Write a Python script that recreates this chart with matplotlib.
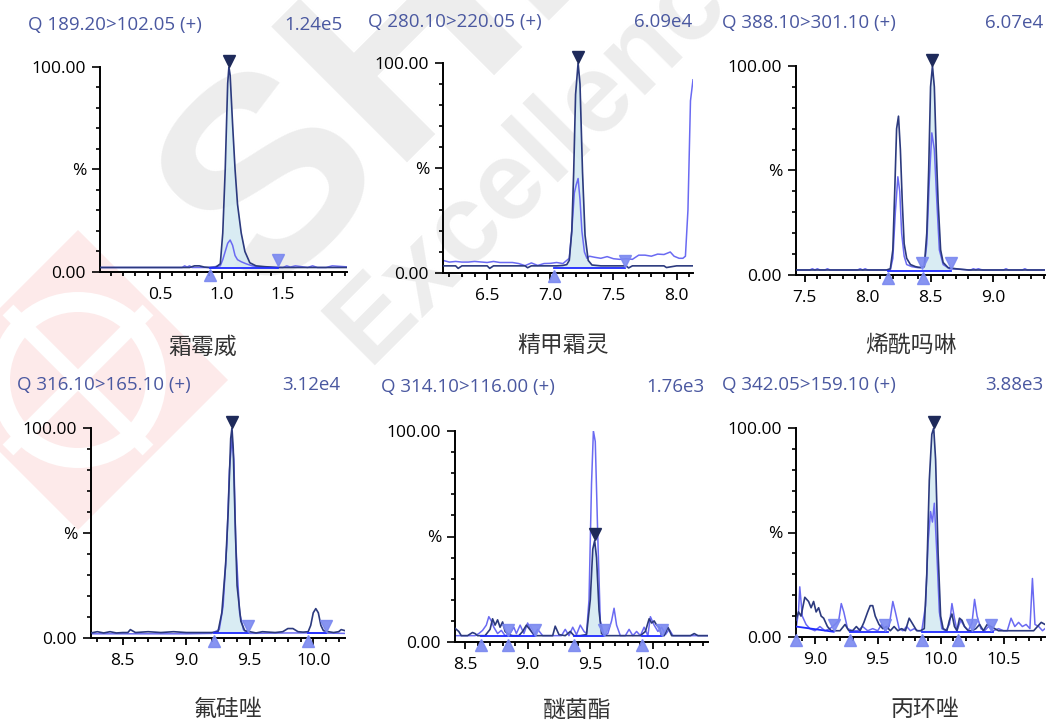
import matplotlib
matplotlib.use("Agg")
import matplotlib.pyplot as plt
from matplotlib.ticker import MultipleLocator, FixedLocator, FixedFormatter
from matplotlib.patches import Polygon, Circle
from matplotlib.lines import Line2D
import numpy as np

plt.rcParams['font.family'] = ['Open Sans', 'Noto Sans CJK SC', 'DejaVu Sans']

# ---- data (x = min, y = %) ----
titles = ["Q 189.20>102.05 (+)", "Q 280.10>220.05 (+)", "Q 388.10>301.10 (+)",
          "Q 316.10>165.10 (+)", "Q 314.10>116.00 (+)", "Q 342.05>159.10 (+)"]
intensities = ["1.24e5", "6.09e4", "6.07e4", "3.12e4", "1.76e3", "3.88e3"]
compounds = ["霜霉威", "精甲霜灵", "烯酰吗啉", "氟硅唑", "醚菌酯", "丙环唑"]

p1_xlim = (0.012, 2.02)
p1_xticks = [0.5, 1.0, 1.5]
p1_dark_x = [0.01, 0.30, 0.60, 0.74, 0.78, 0.82, 0.86, 0.90, 0.95, 0.99, 1.01, 1.03, 1.05, 1.06,
             1.07, 1.09, 1.11, 1.13, 1.16, 1.19, 1.23, 1.28, 1.35, 1.45, 1.60, 1.80, 2.02]
p1_dark_y = [2.2, 2.2, 2.2, 2.2, 3.0, 3.0, 2.4, 2.2, 2.2, 4, 19, 50, 92, 100,
             96, 72, 50, 33, 19, 10, 4.5, 3, 2.6, 2.2, 2.2, 2.2, 2.2]
p1_light_x = [0.01, 0.68, 0.70, 0.72, 0.74, 0.76, 0.90, 0.99, 1.01, 1.03, 1.05, 1.07, 1.09, 1.11,
              1.13, 1.16, 1.20, 1.25, 1.30, 1.50, 1.53, 1.56, 1.60, 1.70, 1.74, 1.78, 1.85,
              1.90, 2.02]
p1_light_y = [2.2, 2.2, 3, 2.4, 3, 2.2, 2.2, 3, 6, 10, 14, 15.6, 13, 8,
              6, 5, 4, 3, 2.5, 2.2, 3, 2.4, 3, 2.2, 3, 2.2, 2.2,
              3, 2.5]
p1_apex = [1.06]
p1_starts = [0.91]
p1_ends = [1.46]
p1_base = [[(0.91, 2.0), (1.46, 2.0)]]
p1_fill = [(0.91, 1.46)]

p2_xlim = (6.15, 8.13)
p2_xticks = [6.5, 7.0, 7.5, 8.0]
p2_dark_x = [6.15, 6.25, 6.27, 6.30, 6.50, 6.52, 6.55, 6.70, 6.80, 6.82, 6.85, 7.00, 7.05, 7.10,
             7.13, 7.15, 7.17, 7.185, 7.20, 7.22, 7.235, 7.255, 7.275, 7.30, 7.33, 7.40, 7.50,
             7.60, 7.62, 7.65, 7.80, 7.90, 7.92, 8.00, 8.13]
p2_dark_y = [3.4, 3.4, 2.2, 3.4, 3.4, 2.2, 3.4, 3.4, 3.4, 2.5, 3.4, 3.4, 3.4, 3.6,
             4, 6, 20, 48, 85, 100, 90, 48, 18, 6, 3.8, 3.4, 3.4,
             3.4, 2.4, 3.4, 3.4, 3.4, 2.6, 3.4, 3.4]
p2_light_x = [6.15, 6.20, 6.25, 6.30, 6.35, 6.40, 6.50, 6.55, 6.60, 6.70, 6.75, 6.80, 6.85, 6.90,
              6.95, 7.00, 7.05, 7.10, 7.15, 7.17, 7.19, 7.205, 7.22, 7.235, 7.25, 7.27, 7.29,
              7.31, 7.35, 7.40, 7.45, 7.50, 7.55, 7.60, 7.65, 7.70, 7.75, 7.80, 7.85, 7.90,
              7.95, 7.98, 8.02, 8.05, 8.07, 8.09, 8.11, 8.13]
p2_light_y = [6, 5.2, 5.5, 5.2, 5.2, 5.5, 5.0, 5.5, 5.0, 5.0, 4.5, 3.5, 4.8, 3.6,
              4.5, 4.6, 5, 4.5, 7, 20, 38, 42, 45, 35, 20, 10, 7,
              8, 7.5, 7, 7.8, 6.8, 6.5, 6.8, 6.5, 8.5, 8.5, 8, 9, 8.8,
              10, 8, 7, 7, 8, 30, 82, 92]
p2_apex = [7.22]
p2_starts = [7.03]
p2_ends = [7.59]
p2_base = [[(7.03, 2.5), (7.59, 2.5)]]
p2_fill = [(7.03, 7.59)]

p3_xlim = (7.43, 9.41)
p3_xticks = [7.5, 8.0, 8.5, 9.0]
p3_dark_x = [7.43, 7.60, 7.80, 8.00, 8.15, 8.18, 8.20, 8.215, 8.23, 8.245, 8.26, 8.275, 8.29, 8.31,
             8.34, 8.38, 8.42, 8.45, 8.47, 8.485, 8.50, 8.515, 8.53, 8.545, 8.56, 8.58, 8.60,
             8.64, 8.70, 8.80, 9.00, 9.20, 9.41]
p3_dark_y = [2.4, 2.4, 2.4, 2.4, 2.4, 3, 12, 40, 70, 76, 60, 35, 15, 8,
             5, 4, 3.5, 4, 20, 50, 90, 100, 90, 60, 35, 12, 6,
             3.5, 3, 2.4, 2.4, 2.4, 2.4]
p3_light_x = [7.43, 7.54, 7.56, 7.58, 7.60, 7.62, 7.66, 7.68, 7.70, 7.92, 7.94, 7.96, 7.98, 8.00,
              8.18, 8.20, 8.22, 8.24, 8.255, 8.27, 8.29, 8.31, 8.35, 8.40, 8.45, 8.47, 8.49,
              8.51, 8.53, 8.55, 8.57, 8.60, 8.65, 8.82, 8.84, 8.86, 8.88, 8.90, 8.92, 9.08,
              9.10, 9.12, 9.23, 9.25, 9.27, 9.41]
p3_light_y = [2.4, 2.4, 3, 2.4, 3, 2.4, 2.4, 3, 2.4, 2.4, 3, 2.4, 3, 2.4,
              2.4, 8, 30, 47, 40, 20, 9, 5, 4, 3.5, 4, 15, 45,
              68, 60, 35, 12, 5, 3, 2.4, 3, 2.6, 3, 2.6, 2.4, 2.4,
              3, 2.4, 2.4, 3, 2.4, 2.4]
p3_apex = [8.515]
p3_starts = [8.16, 8.44]
p3_ends = [8.43, 8.66]
p3_base = [[(8.16, 2.0), (8.66, 2.0)]]
p3_fill = [(8.44, 8.66)]

p4_xlim = (8.25, 10.25)
p4_xticks = [8.5, 9.0, 9.5, 10.0]
p4_dark_x = [8.25, 8.30, 8.35, 8.40, 8.45, 8.50, 8.54, 8.56, 8.60, 8.70, 8.80, 8.90, 9.00, 9.10,
             9.20, 9.25, 9.28, 9.31, 9.33, 9.35, 9.36, 9.37, 9.385, 9.40, 9.43, 9.46, 9.50,
             9.55, 9.60, 9.70, 9.76, 9.80, 9.84, 9.88, 9.92, 9.96, 9.98, 10.00, 10.02, 10.04,
             10.06, 10.08, 10.12, 10.16, 10.20, 10.22, 10.25]
p4_dark_y = [2.4, 3, 2.4, 3, 2.4, 2.6, 2.6, 4, 2.6, 3, 2.6, 3, 2.6, 2.6,
             2.6, 3, 12, 35, 60, 95, 100, 90, 55, 25, 8, 3.5, 3,
             2.4, 3, 2.6, 3, 4.5, 4.5, 3, 2.8, 3, 6, 12, 14, 12,
             6, 3.5, 3, 2.6, 3, 4, 3.5]
p4_light_x = [8.25, 8.50, 8.80, 9.00, 9.20, 9.26, 9.29, 9.32, 9.34, 9.36, 9.375, 9.39, 9.42, 9.45,
              9.50, 9.80, 10.00, 10.25]
p4_light_y = [2.0, 2.0, 2.0, 2.0, 2.2, 4, 15, 45, 80, 95, 85, 45, 12, 4,
              2.2, 2.4, 2.4, 2.2]
p4_apex = [9.36]
p4_starts = [9.22, 9.96]
p4_ends = [9.49, 10.10]
p4_base = [[(9.22, 2.2), (9.49, 2.2)], [(9.96, 2.2), (10.10, 2.2)]]
p4_fill = [(9.22, 9.49)]

p5_xlim = (8.42, 10.44)
p5_xticks = [8.5, 9.0, 9.5, 10.0]
p5_dark_x = [8.42, 8.45, 8.47, 8.52, 8.56, 8.58, 8.60, 8.66, 8.70, 8.72, 8.74, 8.76, 8.78, 8.80,
             8.82, 8.85, 8.88, 8.93, 8.96, 8.99, 9.01, 9.03, 9.06, 9.10, 9.15, 9.20, 9.22,
             9.25, 9.30, 9.34, 9.37, 9.42, 9.47, 9.50, 9.52, 9.535, 9.55, 9.57, 9.59, 9.62,
             9.66, 9.75, 9.85, 9.90, 9.94, 9.97, 9.99, 10.01, 10.03, 10.05, 10.07, 10.09,
             10.12, 10.15, 10.20, 10.30, 10.33, 10.36, 10.44]
p5_dark_y = [6.5, 5, 3, 3, 4.5, 4, 3, 3, 6, 11, 8, 10.5, 7, 9.5,
             5, 3.5, 3, 3, 5, 8, 6.5, 5, 3, 3, 3, 3, 7.5,
             3.5, 3, 5, 3, 3, 3.5, 20, 44, 48, 40, 15, 4, 3,
             3, 3, 3, 3, 5, 11, 9, 10, 8, 7, 3, 3,
             7, 3, 3, 3, 4, 3, 3]
p5_light_x = [8.42, 8.50, 8.58, 8.61, 8.64, 8.67, 8.69, 8.71, 8.73, 8.76, 8.79, 8.82, 8.86, 8.89,
              8.91, 8.94, 8.97, 9.00, 9.03, 9.05, 9.08, 9.12, 9.16, 9.20, 9.24, 9.27, 9.30,
              9.33, 9.36, 9.39, 9.42, 9.45, 9.47, 9.49, 9.51, 9.525, 9.54, 9.56, 9.58, 9.61,
              9.64, 9.67, 9.69, 9.71, 9.74, 9.78, 9.81, 9.84, 9.87, 9.90, 9.93, 9.96, 9.98,
              10.01, 10.04, 10.07, 10.10, 10.13, 10.16, 10.20, 10.30, 10.44]
p5_light_y = [3, 3, 3, 4, 5.5, 8, 12, 10, 7, 4, 5.5, 3, 4, 7,
              4, 8, 4, 9, 5, 3, 6, 3, 3, 3, 3, 3, 6,
              3, 7, 3.5, 8, 5, 4, 20, 75, 100, 95, 50, 10, 3,
              4, 10, 16, 8, 3, 3, 6, 3, 5, 3, 7, 3, 12,
              8, 5, 7, 3.5, 6, 3, 3, 3, 3]
p5_apex = [9.535]
p5_starts = [8.63, 8.84, 9.37, 9.91]
p5_ends = [8.84, 9.06, 9.61, 10.07]
p5_base = [[(8.63, 2.8), (9.06, 2.8)], [(9.37, 2.8), (9.61, 2.8)], [(9.91, 2.8), (10.07, 2.8)]]
p5_fill = [(9.46, 9.60)]

p6_xlim = (8.85, 10.83)
p6_xticks = [9.0, 9.5, 10.0, 10.5]
p6_dark_x = [8.85, 8.87, 8.89, 8.92, 8.95, 8.97, 8.99, 9.01, 9.03, 9.05, 9.07, 9.10, 9.13, 9.16,
             9.20, 9.24, 9.27, 9.30, 9.33, 9.36, 9.39, 9.42, 9.44, 9.46, 9.48, 9.51, 9.54,
             9.57, 9.60, 9.63, 9.66, 9.69, 9.72, 9.75, 9.78, 9.81, 9.84, 9.87, 9.89, 9.91,
             9.93, 9.945, 9.96, 9.98, 10.00, 10.02, 10.05, 10.07, 10.09, 10.11, 10.13, 10.15,
             10.17, 10.19, 10.22, 10.25, 10.28, 10.31, 10.34, 10.37, 10.40, 10.43, 10.46,
             10.50, 10.55, 10.60, 10.65, 10.70, 10.74, 10.77, 10.80, 10.83]
p6_dark_y = [8, 12, 10, 19, 17, 14, 17, 12, 14, 10, 9, 5, 3, 3,
             3, 6, 3, 3, 5, 3, 7, 12, 15, 15, 10, 6, 4,
             5, 3, 5, 3, 4, 3, 9, 6, 3, 3, 4, 30, 75,
             97, 100, 85, 40, 10, 4, 3, 8, 11, 5, 3, 9,
             8, 5, 3, 3, 4, 6, 3, 6, 5, 4, 3,
             3, 3, 3, 3, 3, 3, 5, 7, 6]
p6_light_x = [8.85, 8.87, 8.88, 8.90, 8.93, 8.96, 9.00, 9.04, 9.08, 9.12, 9.16, 9.19, 9.21, 9.23,
              9.26, 9.30, 9.34, 9.38, 9.42, 9.46, 9.50, 9.53, 9.56, 9.59, 9.62, 9.64, 9.67,
              9.70, 9.73, 9.76, 9.79, 9.82, 9.85, 9.88, 9.90, 9.92, 9.935, 9.95, 9.97, 9.99,
              10.01, 10.04, 10.07, 10.09, 10.11, 10.13, 10.16, 10.19, 10.22, 10.25, 10.27,
              10.29, 10.32, 10.35, 10.38, 10.42, 10.46, 10.50, 10.53, 10.56, 10.59, 10.62,
              10.65, 10.68, 10.71, 10.73, 10.75, 10.78, 10.81, 10.83]
p6_light_y = [4, 12, 24, 10, 6, 4, 3, 5, 3, 4, 6, 8, 16, 12,
              4, 3, 3, 5, 3, 4, 3, 6, 3, 5, 17, 12, 4,
              3, 5, 3, 4, 3, 3, 15, 45, 60, 55, 64, 40, 12,
              4, 3, 6, 16, 9, 3, 8, 5, 3, 7, 18,
              10, 4, 3, 5, 3, 4, 3, 3, 9, 5, 7,
              5, 6, 4, 28, 6, 5, 3, 4]
p6_apex = [9.945]
p6_starts = [8.85, 9.28, 9.85, 10.14]
p6_ends = [9.15, 9.56, 10.25, 10.40]
p6_base = [[(8.85, 5.0), (9.15, 2.5)], [(9.28, 2.5), (9.58, 2.5)], [(9.85, 2.5), (10.42, 2.5)]]
p6_fill = [(9.85, 10.03)]

panels = [
    (p1_xlim, p1_xticks, p1_dark_x, p1_dark_y, p1_light_x, p1_light_y, p1_apex, p1_starts, p1_ends, p1_base, p1_fill),
    (p2_xlim, p2_xticks, p2_dark_x, p2_dark_y, p2_light_x, p2_light_y, p2_apex, p2_starts, p2_ends, p2_base, p2_fill),
    (p3_xlim, p3_xticks, p3_dark_x, p3_dark_y, p3_light_x, p3_light_y, p3_apex, p3_starts, p3_ends, p3_base, p3_fill),
    (p4_xlim, p4_xticks, p4_dark_x, p4_dark_y, p4_light_x, p4_light_y, p4_apex, p4_starts, p4_ends, p4_base, p4_fill),
    (p5_xlim, p5_xticks, p5_dark_x, p5_dark_y, p5_light_x, p5_light_y, p5_apex, p5_starts, p5_ends, p5_base, p5_fill),
    (p6_xlim, p6_xticks, p6_dark_x, p6_dark_y, p6_light_x, p6_light_y, p6_apex, p6_starts, p6_ends, p6_base, p6_fill),
]

# ---- layout (pixels of a 1046x724 canvas) ----
W, H = 1046, 724
# left, right, top(100%), bottom(0%)
boxes = [(100, 347, 67, 272), (443, 693, 63, 273), (796, 1045, 66, 275),
         (91, 345, 428, 638), (455, 708, 431, 642), (796, 1045, 428, 637)]
title_pos = [(28, 343, 25), (368, 692, 22), (722, 1043, 23),
             (17, 340, 385), (381, 704, 387), (722, 1043, 385)]
label_pos = [(203, 347), (563, 345), (911, 345), (228, 710), (577, 710), (925, 710)]

DARK = '#2c3a7e'
LIGHT = '#6a6af2'
BASE = '#1f2bff'
FILL = '#d3e9f1'
APEX = '#1e2a5a'
TRI = '#7a88f0'
TITLE = '#4a58a0'

fig = plt.figure(figsize=(W / 100, H / 100), dpi=100)

# ---- watermark ----
def inch(x, y):
    return (x / 100.0, (H - y) / 100.0)

tr = fig.dpi_scale_trans
pink = '#fdeaea'
cx, cy = 78, 380
fig.add_artist(Polygon([inch(cx, cy - 150), inch(cx + 150, cy), inch(cx, cy + 150), inch(cx - 150, cy)],
                       closed=True, facecolor=pink, edgecolor='none', transform=tr, zorder=-10))
fig.add_artist(Circle(inch(cx, cy), 0.88, facecolor='white', edgecolor='none', transform=tr, zorder=-9))
fig.add_artist(Circle(inch(cx, cy), 0.68, facecolor=pink, edgecolor='none', transform=tr, zorder=-8))
for sgn in (1, -1):
    a, b = inch(cx - 70, cy - 70 * sgn), inch(cx + 70, cy + 70 * sgn)
    fig.add_artist(Line2D([a[0], b[0]], [a[1], b[1]], color='white', lw=11, transform=tr,
                          solid_capstyle='butt', zorder=-7))

fig.text(*inch(262, 300), 'SHI', transform=tr, rotation=45, rotation_mode='anchor',
         ha='left', va='baseline', fontsize=200, fontweight='bold', color='#ededed',
         family='Liberation Sans', zorder=-10)
fig.text(*inch(368, 365), 'Excellence', transform=tr, rotation=45, rotation_mode='anchor',
         ha='left', va='baseline', fontsize=80, fontweight='bold', color='#ededed',
         family='Liberation Sans', zorder=-10)

# ---- panels ----
for i, (xlim, xticks, dx, dy, lx, ly, apex, starts, ends, bases, fills) in enumerate(panels):
    l, r, t, b = boxes[i]
    ax = fig.add_axes([l / W, 1 - b / H, (r - l) / W, (b - t) / H])
    ax.set_facecolor('none')
    ax.set_xlim(*xlim)
    ax.set_ylim(0, 100)

    dx_a, dy_a = np.array(dx), np.array(dy)
    for (f0, f1) in fills:
        xs = np.linspace(f0, f1, 200)
        ys = np.interp(xs, dx_a, dy_a)
        bx = [p[0] for seg in bases for p in seg]
        by = [p[1] for seg in bases for p in seg]
        yb = np.interp(xs, bx, by)
        ax.fill_between(xs, yb, ys, where=ys > yb, color=FILL, alpha=0.85, lw=0, zorder=1)

    ax.plot(lx, ly, color=LIGHT, lw=1.1, zorder=2)
    ax.plot(dx, dy, color=DARK, lw=1.2, zorder=3)
    for seg in bases:
        ax.plot([p[0] for p in seg], [p[1] for p in seg], color=BASE, lw=1.3, zorder=4)

    apex_y = np.interp(apex, dx_a, dy_a)
    ax.plot(apex, apex_y + 3.0, 'v', color=APEX, ms=8, clip_on=False, zorder=6)
    ax.plot(starts, [-1.6] * len(starts), '^', color=TRI, ms=8, clip_on=False, zorder=5, alpha=0.9)
    ax.plot(ends, [5.8] * len(ends), 'v', color=TRI, ms=8, clip_on=False, zorder=5, alpha=0.9)

    for s in ('top', 'right'):
        ax.spines[s].set_visible(False)
    for s in ('left', 'bottom'):
        ax.spines[s].set_linewidth(1.4)
        ax.spines[s].set_color('black')

    ax.xaxis.set_major_locator(FixedLocator(xticks))
    ax.xaxis.set_major_formatter(FixedFormatter(['%.1f' % v for v in xticks]))
    ax.xaxis.set_minor_locator(MultipleLocator(0.1))
    ax.yaxis.set_major_locator(FixedLocator([0, 50, 100]))
    ax.yaxis.set_major_formatter(FixedFormatter(['0.00', '%', '100.00']))
    ax.yaxis.set_minor_locator(MultipleLocator(10))
    ax.tick_params(axis='x', which='major', length=5, width=1.3, pad=6, labelsize=12.5)
    ax.tick_params(axis='x', which='minor', length=3, width=1.3)
    ax.tick_params(axis='y', which='major', length=6, width=1.2, pad=4, labelsize=12.5)
    ax.tick_params(axis='y', which='minor', length=3, width=1.2)

    tl, trr, ty = title_pos[i]
    fig.text(tl / W, 1 - ty / H, titles[i], ha='left', va='center', fontsize=13.5, color=TITLE)
    fig.text(trr / W, 1 - ty / H, intensities[i], ha='right', va='center', fontsize=13.5, color=TITLE)
    lx_, ly_ = label_pos[i]
    fig.text(lx_ / W, 1 - ly_ / H, compounds[i], ha='center', va='center', fontsize=16.5,
             color='#333333', family=['Noto Sans CJK SC', 'DejaVu Sans'])

fig.savefig('out.png', dpi=100)
